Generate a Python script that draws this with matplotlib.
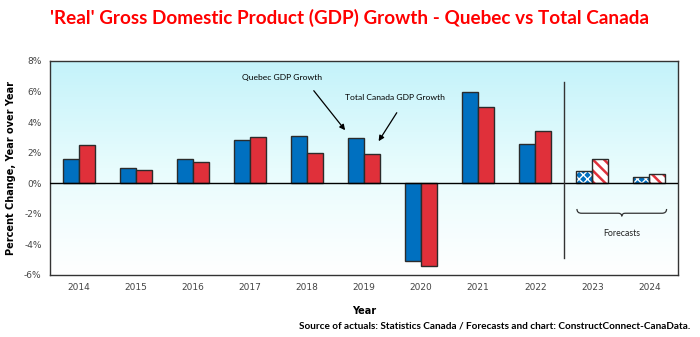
import numpy as np
import matplotlib
matplotlib.use("Agg")
import matplotlib.pyplot as plt
from matplotlib.path import Path
from matplotlib.patches import PathPatch
from matplotlib.colors import LinearSegmentedColormap

years = ["2014", "2015", "2016", "2017", "2018", "2019", "2020", "2021", "2022", "2023", "2024"]
quebec = [1.6, 1.0, 1.6, 2.85, 3.1, 2.95, -5.1, 6.0, 2.6, 0.8, 0.4]
canada = [2.5, 0.9, 1.4, 3.0, 2.0, 1.9, -5.4, 5.0, 3.4, 1.6, 0.6]
is_forecast = [False]*9 + [True]*2
yticks = [-6, -4, -2, 0, 2, 4, 6, 8]

BLUE = "#0070C0"
RED = "#E0303A"
EDGE = "#2b2b2b"

fig = plt.figure(figsize=(7.0, 3.37), dpi=100)
ax = fig.add_axes([50/700, 1-275/337, 628/700, 214/337])

x = np.arange(len(years))
w = 0.28

# gradient background
cmap = LinearSegmentedColormap.from_list("bg", ["#ffffff", "#e8fcfd", "#c4f3fa"])
grad = np.linspace(0, 1, 256).reshape(-1, 1)
ax.imshow(grad, extent=[-0.5, 10.5, -6, 8], origin="lower", aspect="auto",
          cmap=cmap, zorder=0)

for i in range(len(years)):
    if not is_forecast[i]:
        ax.bar(x[i]-w/2, quebec[i], w, color=BLUE, edgecolor=EDGE, linewidth=1, zorder=3)
        ax.bar(x[i]+w/2, canada[i], w, color=RED, edgecolor=EDGE, linewidth=1, zorder=3)
    else:
        plt.rcParams['hatch.linewidth'] = 1.0
        ax.bar(x[i]-w/2, quebec[i], w, color=BLUE, edgecolor="white", hatch="xxxx", linewidth=0, zorder=3)
        ax.bar(x[i]-w/2, quebec[i], w, fill=False, edgecolor=EDGE, linewidth=1, zorder=4)
        plt.rcParams['hatch.linewidth'] = 1.8
        ax.bar(x[i]+w/2, canada[i], w, color="white", edgecolor=RED, hatch="\\\\\\", linewidth=0, zorder=3)
        ax.bar(x[i]+w/2, canada[i], w, fill=False, edgecolor=EDGE, linewidth=1, zorder=4)

ax.axhline(0, color="black", lw=1.0, zorder=5)
ax.set_xlim(-0.5, 10.5)
ax.set_ylim(-6, 8)
ax.set_yticks(yticks)
ax.set_yticklabels([f"{v}%" for v in yticks])
ax.set_xticks(x)
ax.set_xticklabels(years)
ax.tick_params(length=0, labelsize=6.5, labelcolor="#444444", pad=6)
for s in ax.spines.values():
    s.set_color("#333333")
    s.set_linewidth(1.0)

# forecast separator
ax.plot([8.5, 8.5], [-4.9, 6.6], color="#333333", lw=1.0, zorder=5)

# brace
x0, x1, yb = 8.73, 10.3, -1.96
xm = (x0 + x1) / 2
h = 0.28
verts = [(x0, yb+h), (x0, yb), (x0+0.08, yb), (xm-0.06, yb), (xm, yb), (xm, yb-0.2),
         (xm, yb), (xm+0.06, yb), (x1-0.08, yb), (x1, yb), (x1, yb+h)]
codes = [Path.MOVETO, Path.CURVE3, Path.CURVE3, Path.LINETO, Path.CURVE3, Path.CURVE3,
         Path.CURVE3, Path.CURVE3, Path.LINETO, Path.CURVE3, Path.CURVE3]
ax.add_patch(PathPatch(Path(verts, codes), fill=False, lw=0.9, color="#333333", zorder=5))
ax.text(9.52, -3.3, "Forecasts", ha="center", va="center", fontsize=6.3, color="#222222",
        family="Lato")

# annotations
ax.annotate("", xy=(4.70, 3.33), xytext=(4.09, 6.2),
            arrowprops=dict(arrowstyle="-|>", color="black", lw=0.9, mutation_scale=8), zorder=6)
ax.text(3.56, 6.93, "Quebec GDP Growth", ha="center", va="center", fontsize=6.1, family="Lato")
ax.annotate("", xy=(5.23, 2.6), xytext=(5.60, 4.77),
            arrowprops=dict(arrowstyle="-|>", color="black", lw=0.9, mutation_scale=8), zorder=6)
ax.text(5.54, 5.62, "Total Canada GDP Growth", ha="center", va="center", fontsize=6.1, family="Lato")

ax.set_ylabel("Percent Change, Year over Year", fontsize=7, fontweight="bold", labelpad=6)
ax.set_xlabel("Year", fontsize=7, fontweight="bold", labelpad=10)

fig.text(350/700, 1-18/337, "'Real' Gross Domestic Product (GDP) Growth - Quebec vs Total Canada",
         ha="center", va="center", color="#FF0000", fontsize=13.6, fontweight="bold", family="Lato")
fig.text(690/700, 1-326/337, "Source of actuals: Statistics Canada / Forecasts and chart: ConstructConnect-CanaData.",
         ha="right", va="center", fontsize=7.2, fontweight="bold", family="Lato")

fig.savefig("out.png", dpi=100)
